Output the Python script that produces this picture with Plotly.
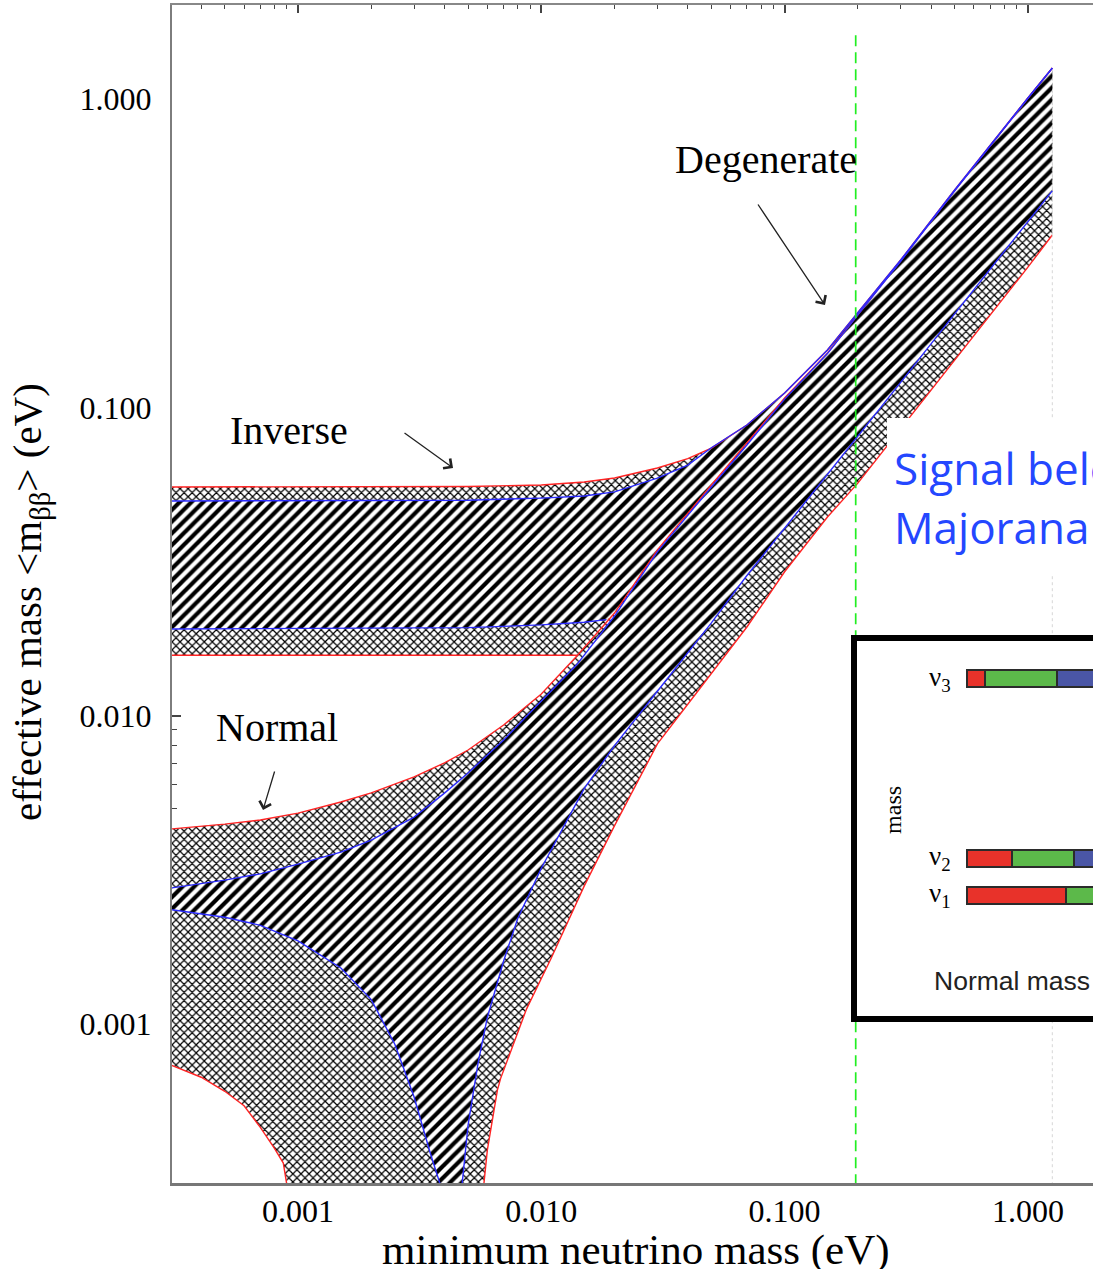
import plotly.graph_objects as go

# ---------------- data (eV) ----------------
# Inverted hierarchy: upper edge (3 sigma, red) and best-fit (blue), continuing into degenerate region
x_top = [0.0003, 0.001, 0.005, 0.01, 0.015, 0.02, 0.03, 0.04, 0.05, 0.07, 0.1, 0.15, 0.2, 0.3, 0.5, 0.7, 1.0, 1.26]
ih_up_red = [0.0552, 0.0552, 0.0554, 0.0560, 0.0573, 0.0590, 0.0636, 0.0682, 0.0738, 0.0877, 0.1114, 0.1535, 0.2023, 0.3006, 0.507, 0.710, 1.008, 1.262]
ih_up_blue = [0.0497, 0.0498, 0.0500, 0.0508, 0.0516, 0.0532, 0.0590, 0.0650, 0.0740, 0.0877, 0.1114, 0.1535, 0.2023, 0.3006, 0.507, 0.710, 1.008, 1.262]
# Inverted hierarchy lower edges
x_ih_lo_red = [0.0003, 0.005, 0.0141]
ih_lo_red = [0.0157, 0.0157, 0.0157]
x_ih_lo_blue = [0.0003, 0.005, 0.01, 0.015, 0.0185]
ih_lo_blue = [0.0191, 0.0193, 0.0197, 0.0201, 0.0205]

# Normal hierarchy upper edges
x_nh_up = [0.0003, 0.0005, 0.0007, 0.001, 0.0015, 0.002, 0.003, 0.004, 0.005, 0.007, 0.01, 0.014,
           0.02, 0.03, 0.05, 0.07, 0.1, 0.15, 0.2, 0.3, 0.5, 0.7, 1.0, 1.26]
nh_up_red = [0.00429, 0.00445, 0.00459, 0.00483, 0.00525, 0.00562, 0.00633, 0.00703, 0.00774, 0.00933, 0.01176, 0.01562,
             0.02153, 0.0345, 0.0560, 0.0767, 0.1072, 0.150, 0.200, 0.299, 0.505, 0.708, 1.006, 1.26]
nh_up_blue = [0.00276, 0.00293, 0.00307, 0.00330, 0.00361, 0.00395, 0.00469, 0.00561, 0.00652, 0.00834, 0.01116, 0.01465,
              0.02105, 0.0340, 0.0552, 0.0755, 0.1064, 0.1495, 0.1995, 0.298, 0.504, 0.707, 1.005, 1.26]

# Normal hierarchy lower edges: left branch (small m) and right branch
x_nh_lo_red_l = [0.0003, 0.0004, 0.0005, 0.0006, 0.0007, 0.0008, 0.00087, 0.0009, 0.00093]
nh_lo_red_l = [0.000736, 0.000672, 0.000605, 0.000543, 0.000462, 0.000395, 0.000354, 0.0003, 0.0002]
x_nh_lo_red_r = [0.00565, 0.0058, 0.006, 0.0063, 0.0066, 0.0068, 0.0075, 0.0087, 0.011, 0.015, 0.02, 0.03,
                 0.045, 0.07, 0.1, 0.15, 0.2, 0.3, 0.5, 0.7, 1.0, 1.26]
nh_lo_red_r = [0.0002, 0.0003, 0.00039, 0.00049, 0.00061, 0.000665, 0.00082, 0.00112, 0.00164, 0.0028, 0.0044, 0.0081,
               0.0123, 0.0194, 0.0293, 0.0441, 0.0568, 0.0852, 0.142, 0.199, 0.285, 0.3625]
x_nh_lo_blue_l = [0.0003, 0.0005, 0.0007, 0.001, 0.0015, 0.002, 0.0025, 0.003, 0.0035, 0.00385, 0.004]
nh_lo_blue_l = [0.00235, 0.00222, 0.00209, 0.00186, 0.00152, 0.00120, 0.00086, 0.00058, 0.00038, 0.0003, 0.0002]
x_nh_lo_blue_r = [0.00455, 0.0047, 0.005, 0.0055, 0.006, 0.007, 0.008, 0.01, 0.015, 0.02, 0.03, 0.05,
                  0.07, 0.1, 0.15, 0.2, 0.3, 0.5, 0.7, 1.0, 1.26]
nh_lo_blue_r = [0.0002, 0.00029, 0.00047, 0.00075, 0.00105, 0.0016, 0.0022, 0.0032, 0.0058, 0.0080, 0.0120, 0.0200,
                0.0285, 0.0405, 0.0605, 0.0805, 0.1205, 0.2010, 0.2810, 0.4010, 0.5040]

# vertical reference lines
green_x = [0.196, 0.196]
green_y = [0.0003, 1.64]
end_x = [1.26, 1.26]
end_y = [0.0003, 1.05]

# axis ticks
tick_vals = [0.001, 0.01, 0.1, 1.0]
tick_text = ["0.001", "0.010", "0.100", "1.000"]
minor_x = [m * 10 ** e for e in range(-4, 1) for m in range(2, 10)]
left_major = [0.01]
left_minor = [m * 0.001 for m in range(2, 10)]

# inset: flavour content of the mass states
nu_levels = [0, 1, 5.84]
nu_labels = ["ν<sub>1</sub>", "ν<sub>2</sub>", "ν<sub>3</sub>"]
frac_e = [0.62, 0.28, 0.11]
frac_mu = [0.20, 0.39, 0.45]
frac_tau = [0.18, 0.33, 0.44]

# ---------------- geometry / style ----------------
W, H = 1093, 1269
X_RANGE = [-3.518, 0.2676]
Y_RANGE = [-3.5157, 0.3052]
X3_RANGE = [-0.6875, 0.7875]
Y3_RANGE = [-3.270, 6.865]
SERIF = "Liberation Serif"
RED = "#ff2424"
BLUE = "#2a2aff"


def polygon(xu, yu, xl, yl):
    return xu + xl[::-1], yu + yl[::-1]


i02 = x_nh_up.index(0.02)
ihc_x, ihc_y = polygon(x_top, ih_up_red, x_ih_lo_red + x_nh_up[i02:], ih_lo_red + nh_up_red[i02:])
ihh_x, ihh_y = polygon(x_top, ih_up_blue, x_ih_lo_blue + x_nh_up[i02:], ih_lo_blue + nh_up_blue[i02:])
nhc_x, nhc_y = polygon(x_nh_up, nh_up_red, x_nh_lo_red_l + x_nh_lo_red_r, nh_lo_red_l + nh_lo_red_r)
nhh_x, nhh_y = polygon(x_nh_up, nh_up_blue, x_nh_lo_blue_l + x_nh_lo_blue_r, nh_lo_blue_l + nh_lo_blue_r)

cross = dict(shape="x", size=5.7, solidity=0.38, fgcolor="black", bgcolor="white", fgopacity=1)
hatch = dict(shape="/", size=8.3, solidity=0.5, fgcolor="black", bgcolor="white", fgopacity=1)

fig = go.Figure()
for px_, py_, pat in [(ihc_x, ihc_y, cross), (ihh_x, ihh_y, hatch), (nhc_x, nhc_y, cross), (nhh_x, nhh_y, hatch)]:
    fig.add_trace(go.Scatter(x=px_, y=py_, mode="none", fill="toself", fillcolor="white",
                             fillpattern=pat, hoverinfo="skip", showlegend=False))

for xs, ys in [(x_top, ih_up_red), (x_ih_lo_red, ih_lo_red), (x_nh_up, nh_up_red),
               (x_nh_lo_red_l, nh_lo_red_l), (x_nh_lo_red_r, nh_lo_red_r)]:
    fig.add_trace(go.Scatter(x=xs, y=ys, mode="lines", line=dict(color=RED, width=1.4), showlegend=False))
for xs, ys in [(x_top, ih_up_blue), (x_ih_lo_blue, ih_lo_blue), (x_nh_up, nh_up_blue),
               (x_nh_lo_blue_l, nh_lo_blue_l), (x_nh_lo_blue_r, nh_lo_blue_r)]:
    fig.add_trace(go.Scatter(x=xs, y=ys, mode="lines", line=dict(color=BLUE, width=1.4), showlegend=False))

fig.add_trace(go.Scatter(x=end_x, y=end_y, mode="lines", line=dict(color="#d6d6d6", width=1, dash="dot"), showlegend=False))
fig.add_trace(go.Scatter(x=green_x, y=green_y, mode="lines", line=dict(color="#22ee22", width=1.7, dash="11px,6px"), showlegend=False))

# overlay axes carrying only the tick marks (top and left)
fig.add_trace(go.Scatter(x=[], y=[], xaxis="x2", yaxis="y2", showlegend=False))

# inset panel (white, framed) on x3/y3, flavour bars on x4/y4 drawn above it
fig.add_trace(go.Scatter(x=[X3_RANGE[0], X3_RANGE[1], X3_RANGE[1], X3_RANGE[0]],
                         y=[Y3_RANGE[0], Y3_RANGE[0], Y3_RANGE[1], Y3_RANGE[1]],
                         mode="none", fill="toself", fillcolor="white", xaxis="x3", yaxis="y3",
                         hoverinfo="skip", showlegend=False))
for vals, col in [(frac_e, "#e8322a"), (frac_mu, "#5cb94a"), (frac_tau, "#4a56a6")]:
    fig.add_trace(go.Bar(x=vals, y=nu_levels, orientation="h", width=0.46, xaxis="x4", yaxis="y4",
                         marker=dict(color=col, line=dict(color="#2b2b2b", width=2)), showlegend=False))

dom_x3 = [(857 - 172) / 921, 1.0]
dom_y3 = [(1183 - 1016) / 1178, (1183 - 641) / 1178]
hidden = dict(showline=False, showticklabels=False, ticks="", showgrid=False, zeroline=False)

fig.update_layout(
    width=W, height=H, margin=dict(l=172, r=0, t=5, b=86),
    paper_bgcolor="white", plot_bgcolor="white", barmode="stack", showlegend=False,
    xaxis=dict(type="log", range=X_RANGE, showline=True, linecolor="#777777", linewidth=3, mirror=False,
               ticks="", tickvals=tick_vals, ticktext=tick_text, showgrid=False, zeroline=False,
               tickfont=dict(family=SERIF, size=32, color="black"), ticklabelstandoff=-2),
    yaxis=dict(type="log", range=Y_RANGE, showline=True, linecolor="#7d7d7d", linewidth=2, mirror=False,
               ticks="", tickvals=tick_vals, ticktext=tick_text, showgrid=False, zeroline=False,
               tickfont=dict(family=SERIF, size=32, color="black"), ticklabelstandoff=12),
    xaxis2=dict(type="log", range=X_RANGE, overlaying="x", side="top", anchor="y2", showline=True,
                linecolor="#888888", linewidth=2, ticks="inside", ticklen=8, tickwidth=1.5, tickcolor="#444",
                tickvals=tick_vals, showticklabels=False, showgrid=False, zeroline=False,
                minor=dict(ticks="inside", ticklen=4, tickwidth=1.2, tickcolor="#444", tickvals=minor_x)),
    yaxis2=dict(type="log", range=Y_RANGE, overlaying="y", side="left", anchor="x2", showline=False,
                ticks="inside", ticklen=9, tickwidth=1.5, tickcolor="#444", tickvals=left_major,
                showticklabels=False, showgrid=False, zeroline=False, layer="below traces",
                minor=dict(ticks="inside", ticklen=5, tickwidth=1.2, tickcolor="#444", tickvals=left_minor)),
    xaxis3=dict(domain=dom_x3, anchor="y3", range=X3_RANGE, showline=True, mirror=True, linecolor="black",
                linewidth=6, showticklabels=False, ticks="", showgrid=False, zeroline=False),
    yaxis3=dict(domain=dom_y3, anchor="x3", range=Y3_RANGE, showline=True, mirror=False, linecolor="black",
                linewidth=6, showticklabels=False, ticks="", showgrid=False, zeroline=False),
    xaxis4=dict(domain=dom_x3, anchor="y4", range=X3_RANGE, **hidden),
    yaxis4=dict(domain=dom_y3, anchor="x4", range=Y3_RANGE, **hidden),
)

# white panel behind the blue caption
fig.add_shape(type="rect", xref="paper", yref="paper", x0=(887 - 172) / 921, x1=1.05,
              y0=(1183 - 575) / 1178, y1=(1183 - 418) / 1178, fillcolor="white", line=dict(width=0), layer="above")

ann = []
# axis titles
ann.append(dict(text="minimum neutrino mass (eV)", xref="paper", yref="paper", x=(636 - 172) / 921,
                y=(1183 - 1250) / 1178, showarrow=False, font=dict(family=SERIF, size=43, color="black"),
                xanchor="center", yanchor="middle"))
ann.append(dict(text="effective mass &lt;m<sub>ββ</sub>&gt; (eV)", xref="paper", yref="paper",
                x=(30 - 172) / 921, y=(1183 - 602) / 1178, textangle=-90, showarrow=False,
                font=dict(family=SERIF, size=41, color="black"), xanchor="center", yanchor="middle"))
# region labels (log10 coordinates)
ann.append(dict(text="Degenerate", x=-1.0765, y=-0.1975, showarrow=False, font=dict(family=SERIF, size=40, color="black")))
ann.append(dict(text="Inverse", x=-3.037, y=-1.0733, showarrow=False, font=dict(family=SERIF, size=40, color="black")))
ann.append(dict(text="Normal", x=-3.0863, y=-2.0367, showarrow=False, font=dict(family=SERIF, size=40, color="black")))
# arrows: head (x, y) and tail (ax, ay), log10 coordinates
for hx, hy, tx, ty in [(-2.3629, -1.1966, -2.5684, -1.0798), (-0.8340, -0.6679, -1.1134, -0.3370),
                       (-3.1439, -2.3059, -3.0945, -2.1761)]:
    ann.append(dict(text="", x=hx, y=hy, ax=tx, ay=ty, xref="x", yref="y", axref="x", ayref="y",
                    showarrow=True, arrowhead=4, arrowsize=1.8, arrowwidth=1.3, arrowcolor="#222222", standoff=0))
# blue caption
for txt, yy in [("Signal below", 468), ("Majorana", 527)]:
    ann.append(dict(text=txt, xref="paper", yref="paper", x=(892 - 172) / 921, y=(1183 - yy) / 1178,
                    xanchor="left", yanchor="middle", showarrow=False,
                    font=dict(family="Open Sans", size=44, color="#2447ff")))
# inset texts
for lvl, lab in zip(nu_levels, nu_labels):
    ann.append(dict(text=lab, xref="x4", yref="y4", x=-0.0875, y=lvl, xanchor="right", yanchor="middle",
                    showarrow=False, font=dict(family=SERIF, size=27, color="black")))
ann.append(dict(text="mass", xref="x4", yref="y4", x=-0.4625, y=2.3, textangle=-90, showarrow=False,
                font=dict(family=SERIF, size=24, color="black")))
ann.append(dict(text="Normal mass hierarchy", xref="x4", yref="y4", x=-0.22, y=-2.324, xanchor="left",
                yanchor="middle", showarrow=False, font=dict(family="Liberation Sans", size=26.5, color="#222222")))
fig.update_layout(annotations=ann)

fig.write_html("out.html", post_script="document.body.style.margin='0px';",
               config={"displayModeBar": False})
